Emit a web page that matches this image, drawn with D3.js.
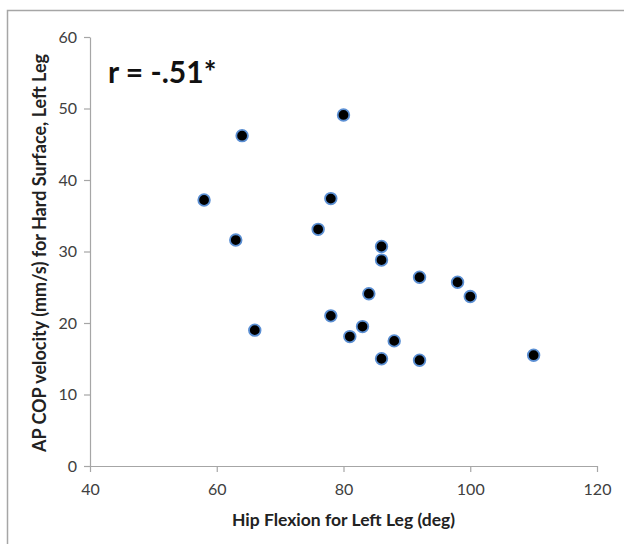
<!DOCTYPE html>
<html>
<head>
<meta charset="utf-8">
<script src="https://cdn.jsdelivr.net/npm/d3@7"></script>
<style>
  body { margin: 0; background: #fff; }
  svg { display: block; font-family: Lato, "Open Sans", sans-serif; }
</style>
</head>
<body>
<svg id="chart" width="624" height="544"></svg>
<script>
// hip flexion (deg) vs AP COP velocity (mm/s)
var hipFlexion = [58, 64, 63, 66, 80, 78, 76, 78, 86, 86, 92, 84, 98, 100, 83, 81, 88, 86, 92, 110];
var copVelocity = [37.2, 46.2, 31.6, 19.0, 49.1, 37.4, 33.1, 21.0, 30.7, 28.8, 26.4, 24.1, 25.7, 23.7, 19.5, 18.1, 17.5, 15.0, 14.8, 15.5];
var xTicks = [40, 60, 80, 100, 120];
var yTicks = [0, 10, 20, 30, 40, 50, 60];

(function () {
  var svg = d3.select('#chart'),
      plotLeft = 90, plotRight = 597, plotTop = 37, plotBottom = 466;

  // outer chart frame, runs off the right and bottom edge
  svg.append('rect')
    .attr('x', 7.5).attr('y', 10.5)
    .attr('width', 640).attr('height', 560)
    .attr('fill', 'none')
    .attr('stroke', '#a6a6a6')
    .attr('stroke-width', 1.5);

  var x = d3.scaleLinear().domain([40, 120]).range([plotLeft, plotRight]),
      y = d3.scaleLinear().domain([0, 60]).range([plotBottom, plotTop]);

  var xAxis = svg.append('g')
    .attr('transform', 'translate(0,' + plotBottom + ')')
    .call(d3.axisBottom(x).tickValues(xTicks).tickSize(6).tickPadding(12).tickSizeOuter(0));

  var yAxis = svg.append('g')
    .attr('transform', 'translate(' + plotLeft + ',0)')
    .call(d3.axisLeft(y).tickValues(yTicks).tickSize(6).tickPadding(7).tickSizeOuter(0));

  [xAxis, yAxis].forEach(function (ax) {
    ax.select('.domain').attr('stroke', '#a6a6a6').attr('stroke-width', 1.2);
    ax.selectAll('.tick line').attr('stroke', '#a6a6a6').attr('stroke-width', 1.2);
    ax.selectAll('.tick text')
      .attr('fill', '#404040')
      .style('font-size', '16px')
      .style('font-family', 'Lato, "Open Sans", sans-serif');
  });

  // points
  svg.append('g').selectAll('circle')
    .data(hipFlexion)
    .enter().append('circle')
    .attr('cx', function (d) { return x(d); })
    .attr('cy', function (d, i) { return y(copVelocity[i]); })
    .attr('r', 5.8)
    .attr('fill', '#000')
    .attr('stroke', '#5b8fd3')
    .attr('stroke-width', 1.8);

  // titles
  svg.append('text')
    .attr('x', (plotLeft + plotRight) / 2).attr('y', 526)
    .attr('text-anchor', 'middle')
    .attr('font-weight', 'bold')
    .attr('font-size', '17.5px')
    .attr('fill', '#222')
    .text('Hip Flexion for Left Leg (deg)');

  svg.append('text')
    .attr('transform', 'translate(46,253) rotate(-90)')
    .attr('text-anchor', 'middle')
    .attr('font-weight', 'bold')
    .attr('font-size', '18px')
    .attr('fill', '#222')
    .text('AP COP velocity (mm/s) for Hard Surface, Left Leg');

  svg.append('text')
    .attr('x', 108).attr('y', 83)
    .attr('font-weight', 'bold')
    .attr('font-size', '30px')
    .attr('fill', '#111')
    .text('r = -.51*');
})();
</script>
</body>
</html>
